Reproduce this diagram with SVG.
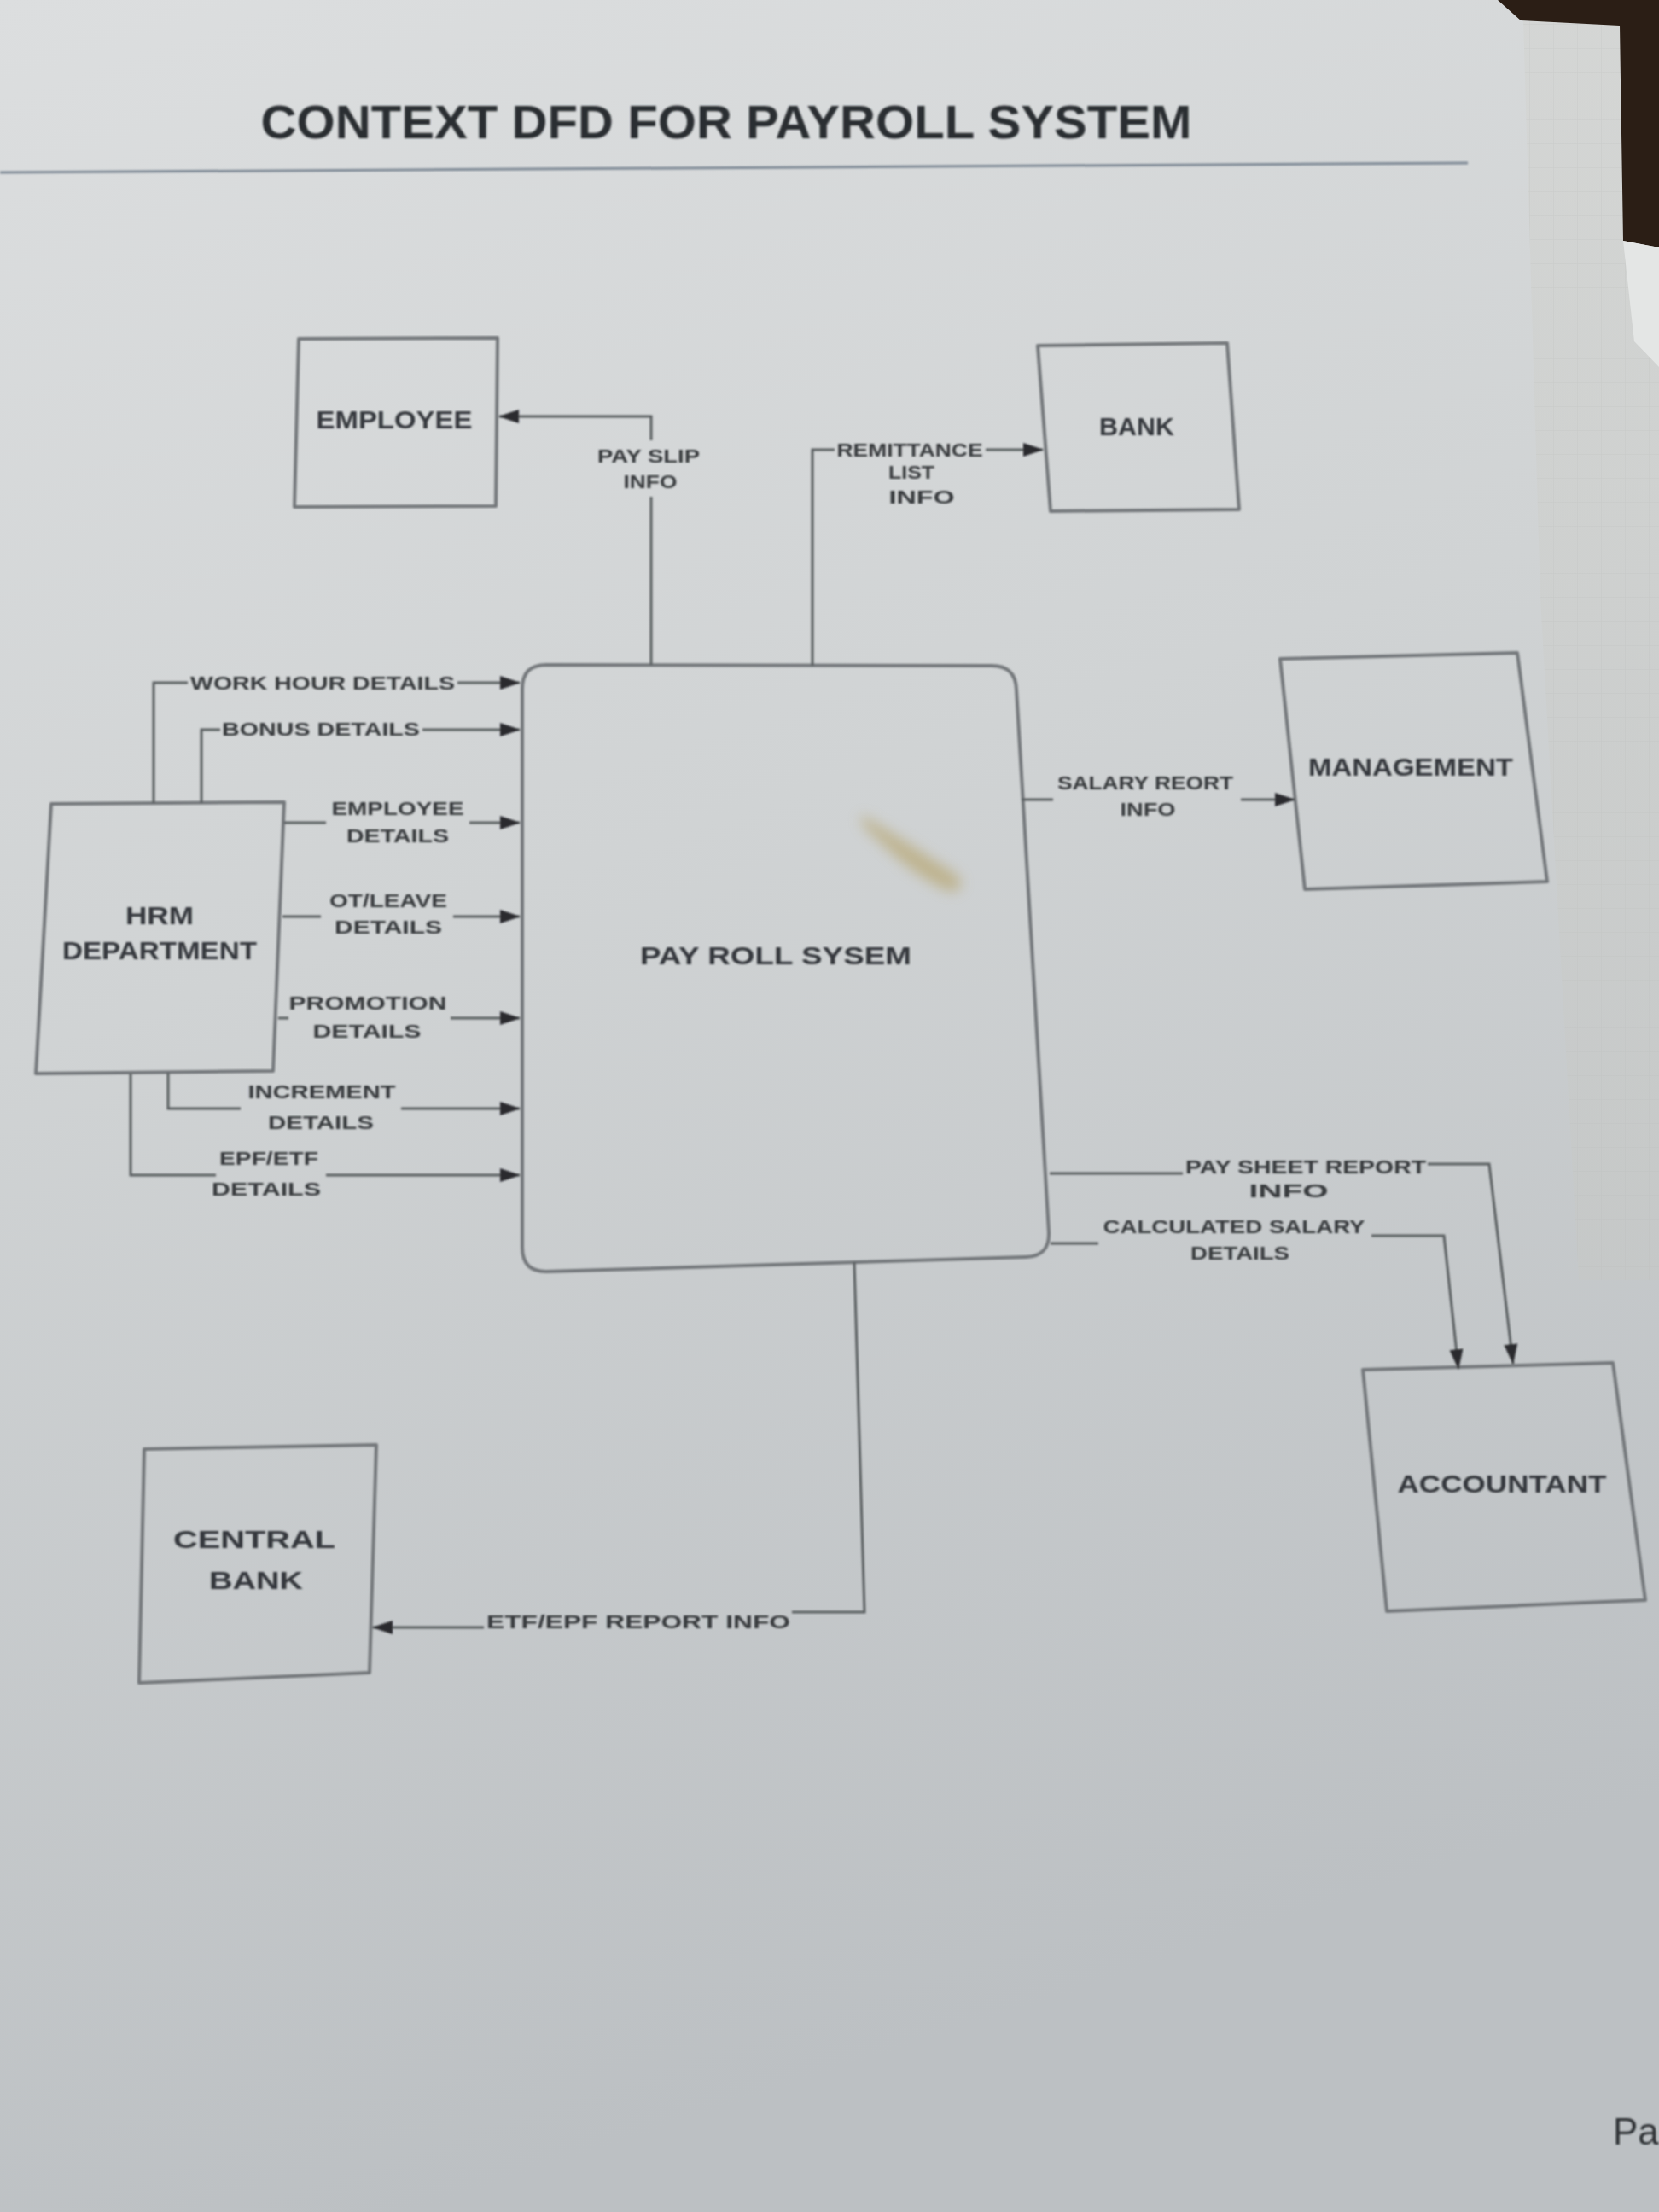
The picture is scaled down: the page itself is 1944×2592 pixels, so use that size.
<svg xmlns="http://www.w3.org/2000/svg" width="1944" height="2592" viewBox="0 0 1944 2592">
<defs>
<linearGradient id="paper" x1="0" y1="0" x2="0.25" y2="1">
<stop offset="0" stop-color="#dcdedf"/>
<stop offset="0.45" stop-color="#d0d3d4"/>
<stop offset="1" stop-color="#bcc0c3"/>
</linearGradient>
<linearGradient id="sidepaper" x1="0" y1="0" x2="0" y2="1">
<stop offset="0" stop-color="#d3d4d1"/>
<stop offset="1" stop-color="#c6c8c6"/>
</linearGradient>
<pattern id="grid" patternUnits="userSpaceOnUse" width="28" height="28">
<path d="M0,0 H28 M0,0 V28" stroke="#b8bab7" stroke-width="1" fill="none"/>
</pattern>
<filter id="soft" x="-5%" y="-5%" width="110%" height="110%"><feGaussianBlur stdDeviation="1.2"/></filter>
<filter id="stainblur" x="-50%" y="-50%" width="200%" height="200%"><feGaussianBlur stdDeviation="8"/></filter>
<marker id="arrow" markerUnits="userSpaceOnUse" markerWidth="24" markerHeight="16" refX="23" refY="8" orient="auto">
<path d="M0,0 L24,8 L0,16 Z" fill="#2a2c2e"/>
</marker>
<style>
.box{fill:none;stroke:#73777a;stroke-width:4;stroke-linejoin:round}
.flow{fill:none;stroke:#5a5e61;stroke-width:3}
.lbl{font-family:"Liberation Sans",Arial,sans-serif;font-weight:bold;font-size:22px;fill:#383b3e;text-anchor:middle}
.ntxt{font-family:"Liberation Sans",Arial,sans-serif;font-weight:bold;font-size:30px;fill:#36393c;text-anchor:middle}
.title{font-family:"Liberation Sans",Arial,sans-serif;font-weight:bold;font-size:56px;fill:#2c2f33;text-anchor:middle}
</style>
</defs>

<!-- photo background -->
<rect x="0" y="0" width="1944" height="2592" fill="url(#paper)"/>
<polygon points="1785,25 1944,25 1944,1500 1850,1500 1805,700" fill="url(#sidepaper)" opacity="0.6"/>
<polygon points="1785,25 1944,25 1944,1500 1850,1500 1805,700" fill="url(#grid)" opacity="0.35"/>
<polygon points="1755,0 1944,0 1944,290 1902,282 1898,30 1782,24" fill="#2b1e15"/>
<polygon points="1902,282 1944,290 1944,430 1915,400" fill="#e4e6e5"/>
<path d="M1010,955 Q1060,985 1120,1025 Q1135,1040 1115,1045 Q1075,1030 1030,985 Q1005,965 1010,955 Z" fill="#b19a55" opacity="0.55" filter="url(#stainblur)"/>

<g filter="url(#soft)">
<!-- title -->
<g id="title">
<text class="title" x="851" y="162" textLength="1091" lengthAdjust="spacingAndGlyphs">CONTEXT DFD FOR PAYROLL SYSTEM</text>
<line x1="0" y1="202" x2="1720" y2="191" stroke="#7f8a96" stroke-width="3"/>
</g>

<!-- nodes -->
<g id="node-employee">
<polygon class="box" points="350,397 583,396 581,593 345,594"/>
<text class="ntxt" x="462" y="502" textLength="183" lengthAdjust="spacingAndGlyphs">EMPLOYEE</text>
</g>
<g id="node-bank">
<polygon class="box" points="1216,405 1438,402 1452,597 1231,599"/>
<text class="ntxt" x="1332" y="510" textLength="88" lengthAdjust="spacingAndGlyphs">BANK</text>
</g>
<g id="node-payroll">
<path class="box" d="M640,779 L1162,780 Q1190,780 1191,808 L1229,1444 Q1230,1472 1202,1473 L640,1490 Q612,1490 612,1462 L612,807 Q612,779 640,779 Z"/>
<text class="ntxt" x="909" y="1130" font-size="33" textLength="318" lengthAdjust="spacingAndGlyphs">PAY ROLL SYSEM</text>
</g>
<g id="node-management">
<polygon class="box" points="1500,772 1778,765 1813,1033 1529,1042"/>
<text class="ntxt" x="1653" y="909" textLength="240" lengthAdjust="spacingAndGlyphs">MANAGEMENT</text>
</g>
<g id="node-hrm">
<polygon class="box" points="60,942 333,940 320,1255 42,1258"/>
<text class="ntxt" x="187" y="1083" textLength="80" lengthAdjust="spacingAndGlyphs">HRM</text>
<text class="ntxt" x="187" y="1124" textLength="228" lengthAdjust="spacingAndGlyphs">DEPARTMENT</text>
</g>
<g id="node-accountant">
<polygon class="box" points="1597,1605 1890,1597 1928,1875 1625,1888"/>
<text class="ntxt" x="1760" y="1749" textLength="245" lengthAdjust="spacingAndGlyphs">ACCOUNTANT</text>
</g>
<g id="node-centralbank">
<polygon class="box" points="169,1698 441,1693 433,1960 163,1972"/>
<text class="ntxt" x="298" y="1814" textLength="190" lengthAdjust="spacingAndGlyphs">CENTRAL</text>
<text class="ntxt" x="300" y="1862" textLength="110" lengthAdjust="spacingAndGlyphs">BANK</text>
</g>

<!-- connectors -->
<g id="connectors">
<!-- pay slip info -->
<path class="flow" d="M763,779 V582"/>
<path class="flow" d="M763,516 V488 H585" marker-end="url(#arrow)"/>
<text class="lbl" x="760" y="542" font-size="20" textLength="120" lengthAdjust="spacingAndGlyphs">PAY SLIP</text>
<text class="lbl" x="762" y="572" font-size="20" textLength="63" lengthAdjust="spacingAndGlyphs">INFO</text>

<!-- remittance list info -->
<path class="flow" d="M952,780 V527 H978"/>
<path class="flow" d="M1155,527 H1222" marker-end="url(#arrow)"/>
<text class="lbl" x="1066" y="535" font-size="20" textLength="171" lengthAdjust="spacingAndGlyphs">REMITTANCE</text>
<text class="lbl" x="1068" y="561" font-size="20" textLength="54" lengthAdjust="spacingAndGlyphs">LIST</text>
<text class="lbl" x="1080" y="590" font-size="20" textLength="77" lengthAdjust="spacingAndGlyphs">INFO</text>

<!-- salary report info -->
<path class="flow" d="M1197,937 H1234"/>
<path class="flow" d="M1454,937 H1517" marker-end="url(#arrow)"/>
<text class="lbl" x="1342" y="925" textLength="206" lengthAdjust="spacingAndGlyphs">SALARY REORT</text>
<text class="lbl" x="1345" y="956" textLength="65" lengthAdjust="spacingAndGlyphs">INFO</text>

<!-- work hour details -->
<path class="flow" d="M180,941 V800 H220"/>
<path class="flow" d="M536,800 H609" marker-end="url(#arrow)"/>
<text class="lbl" x="378" y="808" textLength="310" lengthAdjust="spacingAndGlyphs">WORK HOUR DETAILS</text>

<!-- bonus details -->
<path class="flow" d="M236,941 V855 H258"/>
<path class="flow" d="M495,855 H609" marker-end="url(#arrow)"/>
<text class="lbl" x="376" y="862" textLength="232" lengthAdjust="spacingAndGlyphs">BONUS DETAILS</text>

<!-- employee details -->
<path class="flow" d="M333,964 H382"/>
<path class="flow" d="M550,964 H609" marker-end="url(#arrow)"/>
<text class="lbl" x="466" y="955" textLength="155" lengthAdjust="spacingAndGlyphs">EMPLOYEE</text>
<text class="lbl" x="466" y="987" textLength="120" lengthAdjust="spacingAndGlyphs">DETAILS</text>

<!-- ot/leave details -->
<path class="flow" d="M331,1074 H376"/>
<path class="flow" d="M531,1074 H609" marker-end="url(#arrow)"/>
<text class="lbl" x="455" y="1063" textLength="138" lengthAdjust="spacingAndGlyphs">OT/LEAVE</text>
<text class="lbl" x="455" y="1094" textLength="126" lengthAdjust="spacingAndGlyphs">DETAILS</text>

<!-- promotion details -->
<path class="flow" d="M326,1193 H338"/>
<path class="flow" d="M528,1193 H609" marker-end="url(#arrow)"/>
<text class="lbl" x="431" y="1183" textLength="185" lengthAdjust="spacingAndGlyphs">PROMOTION</text>
<text class="lbl" x="430" y="1216" textLength="127" lengthAdjust="spacingAndGlyphs">DETAILS</text>

<!-- increment details -->
<path class="flow" d="M197,1257 V1299 H282"/>
<path class="flow" d="M470,1299 H609" marker-end="url(#arrow)"/>
<text class="lbl" x="377" y="1287" textLength="173" lengthAdjust="spacingAndGlyphs">INCREMENT</text>
<text class="lbl" x="376" y="1323" textLength="124" lengthAdjust="spacingAndGlyphs">DETAILS</text>

<!-- epf/etf details -->
<path class="flow" d="M153,1258 V1377 H253"/>
<path class="flow" d="M382,1377 H609" marker-end="url(#arrow)"/>
<text class="lbl" x="315" y="1365" textLength="116" lengthAdjust="spacingAndGlyphs">EPF/ETF</text>
<text class="lbl" x="312" y="1401" textLength="128" lengthAdjust="spacingAndGlyphs">DETAILS</text>

<!-- pay sheet report info -->
<path class="flow" d="M1230,1375 H1386"/>
<path class="flow" d="M1673,1364 H1745 L1773,1598" marker-end="url(#arrow)"/>
<text class="lbl" x="1530" y="1375" textLength="282" lengthAdjust="spacingAndGlyphs">PAY SHEET REPORT</text>
<text class="lbl" x="1510" y="1403" textLength="93" lengthAdjust="spacingAndGlyphs">INFO</text>

<!-- calculated salary details -->
<path class="flow" d="M1231,1457 H1287"/>
<path class="flow" d="M1607,1448 H1692 L1709,1604" marker-end="url(#arrow)"/>
<text class="lbl" x="1446" y="1445" textLength="307" lengthAdjust="spacingAndGlyphs">CALCULATED SALARY</text>
<text class="lbl" x="1453" y="1476" textLength="116" lengthAdjust="spacingAndGlyphs">DETAILS</text>

<!-- etf/epf report info -->
<path class="flow" d="M1001,1479 L1013,1889 H928"/>
<path class="flow" d="M567,1907 H437" marker-end="url(#arrow)"/>
<text class="lbl" x="748" y="1908" textLength="356" lengthAdjust="spacingAndGlyphs">ETF/EPF REPORT INFO</text>
</g>

<text x="1890" y="2513" font-family="'Liberation Sans',Arial,sans-serif" font-size="44" fill="#2f3236">Pa</text>
</g>
</svg>
